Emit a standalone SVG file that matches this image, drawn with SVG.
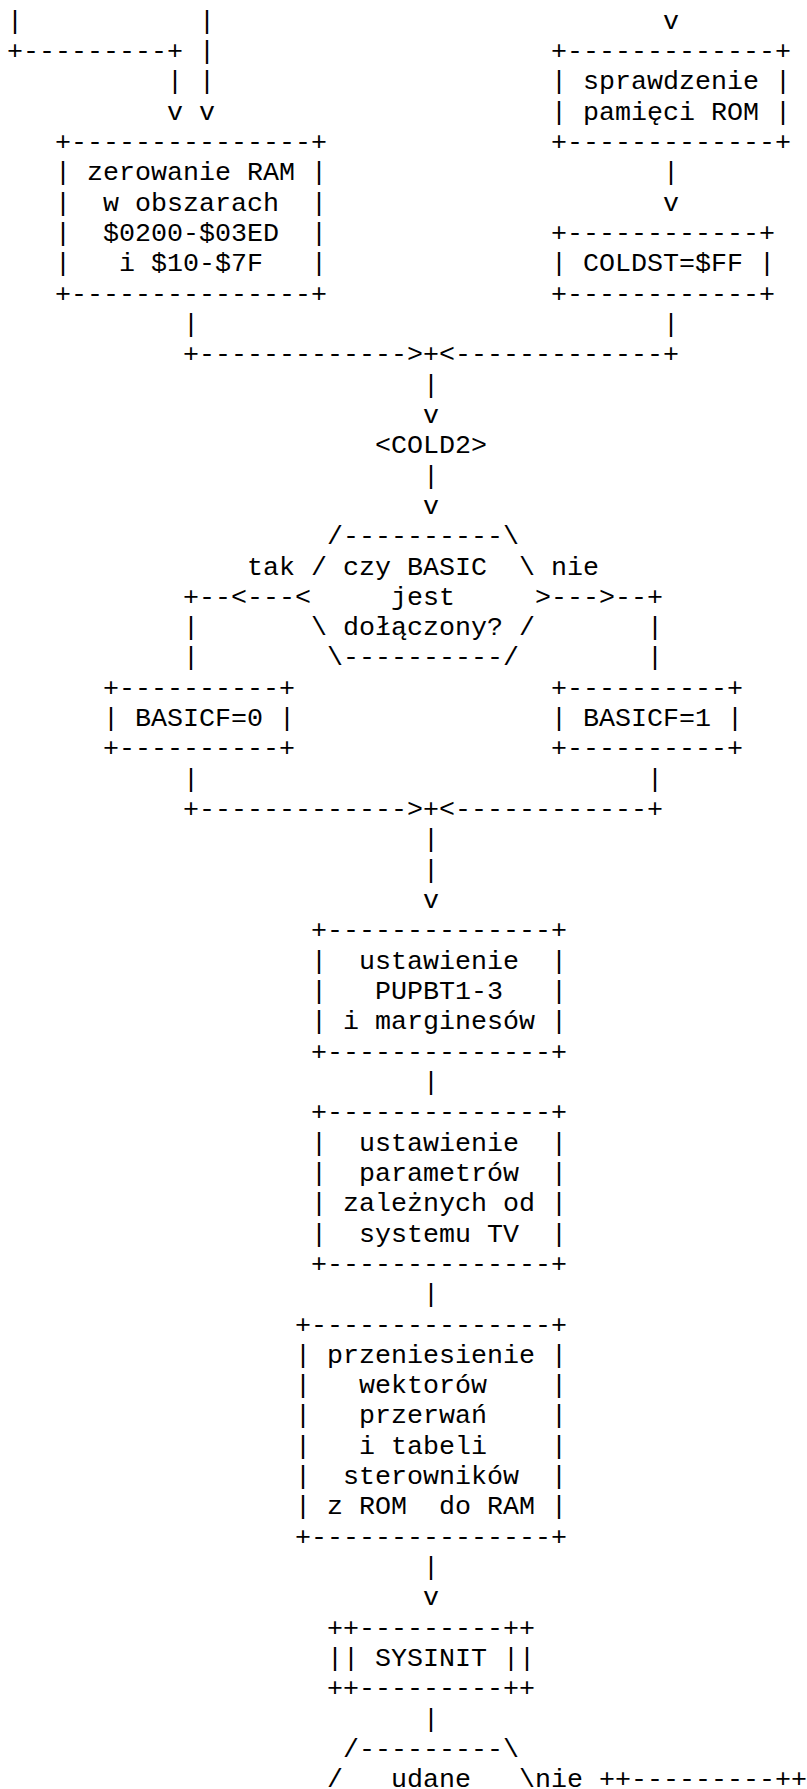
<svg xmlns="http://www.w3.org/2000/svg" width="807" height="1789" viewBox="0 0 807 1789" xml:space="preserve">
  <style>
    text { font-family: "Liberation Mono", "DejaVu Sans Mono", monospace; font-size: 26.67px; fill: #000; white-space: pre; }
  </style>
  <rect width="807" height="1789" fill="#fff"/>

  <!-- character grid: x = 7 + 16*col, baseline = 28.7 + 30.32*row -->

  <g id="connectors">
    <text x="7" y="28.7">|</text>
    <text x="199" y="28.7">|</text>
    <text x="663" y="28.7">v</text>
    <text x="7" y="59.0">+---------+</text>
    <text x="199" y="59.0">|</text>
    <text x="167" y="89.3">| |</text>
    <text x="167" y="119.7">v v</text>
    <text x="663" y="180.3">|</text>
    <text x="663" y="210.6">v</text>
    <text x="183" y="331.9">|</text>
    <text x="663" y="331.9">|</text>
    <text x="183" y="362.2">+------------->+&lt;-------------+</text>
    <text x="423" y="392.5">|</text>
    <text x="423" y="422.9">v</text>
    <text x="423" y="483.5">|</text>
    <text x="423" y="513.8">v</text>
    <text x="247" y="574.5">tak</text>
    <text x="551" y="574.5">nie</text>
    <text x="183" y="604.8">+--&lt;---</text>
    <text x="551" y="604.8">---&gt;--+</text>
    <text x="183" y="635.1">|</text>
    <text x="647" y="635.1">|</text>
    <text x="183" y="665.4">|</text>
    <text x="647" y="665.4">|</text>
    <text x="183" y="786.7">|</text>
    <text x="647" y="786.7">|</text>
    <text x="183" y="817.0">+------------->+&lt;------------+</text>
    <text x="423" y="847.3">|</text>
    <text x="423" y="877.7">|</text>
    <text x="423" y="908.0">v</text>
    <text x="423" y="1089.9">|</text>
    <text x="423" y="1302.1">|</text>
    <text x="423" y="1575.0">|</text>
    <text x="423" y="1605.3">v</text>
    <text x="423" y="1726.6">|</text>
    <text x="535" y="1787.3">nie</text>
  </g>

  <g id="rom-check">
    <text x="551" y="59.0">+-------------+</text>
    <text x="551" y="89.3">| sprawdzenie |</text>
    <text x="551" y="119.7">| pamięci ROM |</text>
    <text x="551" y="150.0">+-------------+</text>
  </g>

  <g id="ram-clear">
    <text x="55" y="150.0">+---------------+</text>
    <text x="55" y="180.3">| zerowanie RAM |</text>
    <text x="55" y="210.6">|  w obszarach  |</text>
    <text x="55" y="240.9">|  $0200-$03ED  |</text>
    <text x="55" y="271.3">|   i $10-$7F   |</text>
    <text x="55" y="301.6">+---------------+</text>
  </g>

  <g id="coldst">
    <text x="551" y="240.9">+------------+</text>
    <text x="551" y="271.3">| COLDST=$FF |</text>
    <text x="551" y="301.6">+------------+</text>
  </g>

  <g id="cold2">
    <text x="375" y="453.2">&lt;COLD2&gt;</text>
  </g>

  <g id="basic-check">
    <text x="327" y="544.1">/----------\</text>
    <text x="311" y="574.5">/ czy BASIC  \</text>
    <text x="295" y="604.8">&lt;</text>
    <text x="391" y="604.8">jest</text>
    <text x="535" y="604.8">&gt;</text>
    <text x="311" y="635.1">\ dołączony? /</text>
    <text x="327" y="665.4">\----------/</text>
  </g>

  <g id="basicf-0">
    <text x="103" y="695.7">+----------+</text>
    <text x="103" y="726.1">| BASICF=0 |</text>
    <text x="103" y="756.4">+----------+</text>
  </g>

  <g id="basicf-1">
    <text x="551" y="695.7">+----------+</text>
    <text x="551" y="726.1">| BASICF=1 |</text>
    <text x="551" y="756.4">+----------+</text>
  </g>

  <g id="pupbt-margins">
    <text x="311" y="938.3">+--------------+</text>
    <text x="311" y="968.6">|  ustawienie  |</text>
    <text x="311" y="998.9">|   PUPBT1-3   |</text>
    <text x="311" y="1029.3">| i marginesów |</text>
    <text x="311" y="1059.6">+--------------+</text>
  </g>

  <g id="tv-params">
    <text x="311" y="1120.2">+--------------+</text>
    <text x="311" y="1150.5">|  ustawienie  |</text>
    <text x="311" y="1180.9">|  parametrów  |</text>
    <text x="311" y="1211.2">| zależnych od |</text>
    <text x="311" y="1241.5">|  systemu TV  |</text>
    <text x="311" y="1271.8">+--------------+</text>
  </g>

  <g id="vector-copy">
    <text x="295" y="1332.5">+---------------+</text>
    <text x="295" y="1362.8">| przeniesienie |</text>
    <text x="295" y="1393.1">|   wektorów    |</text>
    <text x="295" y="1423.4">|   przerwań    |</text>
    <text x="295" y="1453.7">|   i tabeli    |</text>
    <text x="295" y="1484.1">|  sterowników  |</text>
    <text x="295" y="1514.4">| z ROM  do RAM |</text>
    <text x="295" y="1544.7">+---------------+</text>
  </g>

  <g id="sysinit">
    <text x="327" y="1635.7">++---------++</text>
    <text x="327" y="1666.0">|| SYSINIT ||</text>
    <text x="327" y="1696.3">++---------++</text>
  </g>

  <g id="init-ok">
    <text x="343" y="1756.9">/---------\</text>
    <text x="327" y="1787.3">/   udane   \</text>
  </g>

  <g id="next-call">
    <text x="599" y="1787.3">++---------++</text>
  </g>
</svg>
